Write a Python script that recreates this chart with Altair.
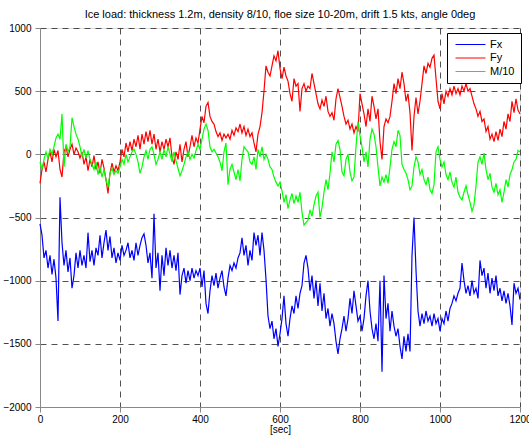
import altair as alt
import pandas as pd

# time axis [sec], 5 s steps
time_s = list(range(0, 1205, 5))

fx = [
    -550, -640, -820, -760, -900, -800, -950, -830, -980, -1320, -340, -700, -880, -760, -930, -820, -1060, -960, -780, -900,
    -760, -880, -800, -900, -620, -850, -760, -880, -740, -800, -640, -820, -700, -600, -760, -650, -820, -740, -860, -780,
    -840, -720, -800, -760, -700, -820, -760, -840, -700, -800, -720, -660, -630, -720, -860, -780, -980, -470, -900, -780,
    -1080, -800, -960, -740, -880, -760, -900, -800, -920, -780, -1110, -960, -900, -1020, -920, -1000, -900, -980, -920, -960,
    -900, -1050, -920, -1180, -1260, -1080, -960, -1040, -940, -1060, -980, -920, -1050, -1120, -980, -880, -920, -860, -900, -820,
    -780, -660, -800, -720, -880, -760, -840, -620, -720, -640, -800, -620, -760, -990, -1280, -1380, -1320, -1460, -1380, -1520,
    -1420, -1300, -1120, -1340, -1440, -1300, -1200, -1260, -1120, -1220, -1100, -1040, -860, -800, -900, -1080, -960, -1140, -1000, -1200,
    -1020, -1240, -1100, -1300, -1220, -1360, -1260, -1340, -1480, -1580, -1460, -1380, -1280, -1400, -1300, -1140, -1260, -1080, -1200, -1320,
    -1280, -1400, -1300, -1120, -1000, -1240, -1380, -1460, -1340, -1480, -1000, -1720, -960, -1300, -1180, -1400, -1240, -1360, -1440, -1380,
    -1520, -1620, -1440, -1560, -1420, -1560, -800, -500, -920, -1240, -1360, -1260, -1340, -1240, -1320, -1280, -1360, -1260, -1340, -1300,
    -1400, -1300, -1340, -1240, -1320, -1220, -1180, -1120, -1160, -1100, -1060, -860, -1000, -1100, -1040, -1120, -1000, -1100, -1060, -1140,
    -840, -960, -900, -1060, -940, -1100, -980, -1080, -960, -1120, -1060, -1160, -1080, -1180, -1100, -1200, -1350, -1020, -1100, -1060,
    -1150,
]

fy = [
    -230, -120, -60, -140, -40, 20, -60, 40, -20, 30, -120, -180, 20, 60, -20, 40, 80, 0, 50, 20,
    -30, 20, -80, -20, -130, -40, -100, -10, -120, -60, -150, -40, -110, -200, -310, -150, -70, -140, -90, -130,
    -60, 40, -20, 90, 20, 100, 30, 120, 60, 150, 40, 160, 80, 180, 100, 190, 80, 160, 40, 120,
    20, 100, 40, 120, 60, 130, -20, -80, 20, -40, 80, -60, 40, 100, -20, 60, 150, 60, 130, 90,
    200, 300, 250, 380, 410, 300, 260, 240, 180, 140, 170, 110, 160, 130, 160, 120, 190, 150, 210, 180,
    240, 170, 220, 150, 200, 140, 170, 90, 20, 160, 220, 330, 500, 700, 650, 620, 700, 780, 740, 820,
    680, 600, 690, 620, 580, 480, 420, 600, 540, 560, 340, 520, 560, 500, 540, 520, 640, 560, 480, 400,
    360, 430, 380, 460, 340, 300, 330, 270, 440, 520, 450, 380, 300, 240, 270, 200, 240, 170, 220, 180,
    480, 400, 320, 220, 360, 260, 460, 380, 280, 360, 100, -40, 220, 280, 250, 300, 420, 560, 480, 600,
    520, 650, 560, 420, 480, 330, 30, 300, 450, 320, 420, 560, 700, 640, 720, 690, 760, 785, 600, 420,
    360, 480, 400, 500, 460, 520, 470, 540, 480, 520, 470, 540, 500, 560, 500, 520, 460, 400, 360, 300,
    340, 260, 280, 180, 220, 120, 160, 100, 180, 110, 200, 140, 260, 200, 320, 260, 420, 330, 440, 350,
    320,
]

m10 = [
    -60, -120, -40, 20, -30, 40, 0, 60, 130, 160, 120, 320, -100, 80, 20, 60, 290, 220, 160, 120,
    60, -20, 40, -30, 30, -40, -80, -120, -60, -160, -100, -180, -120, -200, -260, -150, -110, -160, -130, -150,
    -100, -40, -80, 0, -60, -20, 20, 40, 0, -60, -150, -100, -20, 30, -40, 40, 60, 0, -80, -40,
    20, -40, 40, -20, 60, 0, -60, 20, -50, -110, -170, -130, -80, -20, 20, -40, 0, -30, 30, 80,
    40, 120, 200, 240, 190, 60, 20, 40, 10, -20, -60, -130, 20, 90, -240, -120, -80, -140, -200, -120,
    -210, -40, 60, 40, 20, -60, -80, -20, -120, 40, -20, 60, -40, 0, -40, -100, -120, -180, -220, -250,
    -220, -290, -380, -320, -430, -360, -310, -390, -330, -380, -300, -460, -560, -540, -520, -440, -490, -400, -330, -300,
    -500, -420, -300, -200, -280, -150, 20, -60, 80, 110, 40, -140, -170, -40, 0, -140, -210, -180, 60, 260,
    150, 60, -60, 20, -100, 120, 200, 160, 60, -100, -250, -180, -220, -160, -230, -100, 40, 100, 60, 190,
    150, -80, -120, -150, -200, -280, -250, -100, -20, -60, -160, -120, -200, -240, -180, -280, -310, -240, 20, 60,
    -40, -100, -60, -160, -200, -140, -220, -260, -180, -300, -340, -360, -300, -250, -320, -380, -450, -400, -250, -60,
    -20, -80, 10, -120, -200, -150, -260, -300, -230, -320, -280, -380, -300, -200, -260, -160, -120, -60, -40, 30,
    20,
]

series_names = ["Fx", "Fy", "M/10"]
series_colors = ["#0000ff", "#ff0000", "#00ff00"]
x_ticks = [0, 200, 400, 600, 800, 1000, 1200]
y_ticks = [-2000, -1500, -1000, -500, 0, 500, 1000]
title_text = "Ice load: thickness 1.2m, density 8/10, floe size 10-20m, drift 1.5 kts, angle 0deg"

rows = []
for name, vals in zip(series_names, [fx, fy, m10]):
    for t, v in zip(time_s, vals):
        rows.append({"t": t, "v": v, "series": name})
df = pd.DataFrame(rows)

FONT = "Liberation Sans"
GRID = dict(grid=True, gridColor="#333333", gridDash=[6, 5], gridWidth=1, gridOpacity=0.85, labelFlush=False)

chart = (
    alt.Chart(df)
    .mark_line(strokeWidth=1.2)
    .encode(
        x=alt.X(
            "t:Q",
            scale=alt.Scale(domain=[0, 1200], nice=False, zero=False),
            axis=alt.Axis(
                values=x_ticks, title="[sec]", format="d", labelPadding=2, titlePadding=0,
                titleFontWeight="normal", titleFont=FONT, titleFontSize=10, **GRID
            ),
        ),
        y=alt.Y(
            "v:Q",
            scale=alt.Scale(domain=[-2000, 1000], nice=False),
            axis=alt.Axis(values=y_ticks, title=None, format="d", labelPadding=4, **GRID),
        ),
        color=alt.Color(
            "series:N",
            scale=alt.Scale(domain=series_names, range=series_colors),
            legend=alt.Legend(
                title=None,
                orient="none",
                legendX=407,
                legendY=5,
                fillColor="white",
                strokeColor="black",
                padding=6,
                symbolType="M-6,0H6",
                symbolSize=25,
                symbolStrokeWidth=1,
                symbolOffset=12,
                labelOffset=14,
                labelFontSize=11,
                labelFont=FONT,
                labelColor="black",
                rowPadding=1.5,
                cornerRadius=0,
            ),
        ),
    )
    .properties(
        width=480,
        height=379,
        title=alt.TitleParams(
            title_text, fontSize=11, font=FONT, fontWeight="normal", color="black", anchor="middle", offset=3
        ),
        autosize=alt.AutoSizeParams(type="none"),
        padding={"left": 40, "top": 28, "right": 9, "bottom": 28},
    )
    .configure_view(stroke="black", strokeWidth=1)
    .configure_axis(
        domainColor="black",
        domainWidth=1,
        ticks=False,
        labelFont=FONT,
        labelFontSize=10,
        labelColor="black",
        titleFont=FONT,
        titleFontSize=10,
        titleFontWeight="normal",
        titleColor="black",
    )
    .configure(background="white")
)

chart.save("out.html", embed_options={"renderer": "svg", "actions": False})
